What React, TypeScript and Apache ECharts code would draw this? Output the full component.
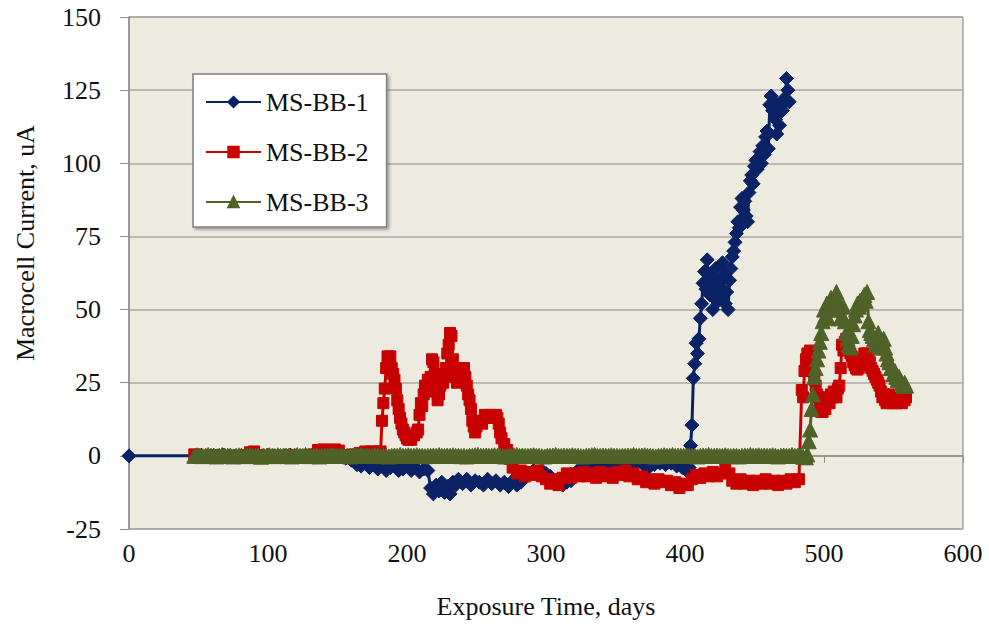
import React, { useEffect, useRef } from "react";
import * as echarts from "echarts";

const seriesNames = ["MS-BB-1", "MS-BB-2", "MS-BB-3"];
const xTicks = { min: 0, max: 600, interval: 100 };
const yTicks = { min: -25, max: 150, interval: 25 };

// [day, current uA]
const ms1: [number, number][] = [
  [0, 0], [48, 0], [52, 0.2], [56, 0], [60, -0.2], [64, 0], [68, 0.3], [72, 0], [76, -0.2], [80, 0],
  [84, 0.2], [88, 0], [92, -0.3], [96, 0], [100, 0.2], [104, 0], [108, -0.2], [112, 0], [116, 0.3], [120, 0],
  [124, -0.2], [128, 0], [132, 0.2], [136, 0], [140, -0.3], [144, 0], [148, 0.2], [152, -0.3], [156, -0.8], [160, -1.5],
  [164, -3], [167, -3.5], [170, -2.5], [173, -4], [176, -3], [179, -4.5], [182, -3.5], [185, -5], [188, -4], [191, -3.5],
  [194, -5], [197, -4.5], [200, -3.5], [203, -5], [206, -4], [209, -5.5], [212, -4.5], [215, -5], [217, -11], [219, -13],
  [221, -10], [223, -12], [225, -9], [227, -12.5], [229, -10.5], [231, -13], [233, -9], [235, -10], [237, -8], [240, -9.5],
  [243, -8], [246, -10], [249, -8.5], [252, -9], [255, -10], [258, -8], [261, -9.5], [264, -8.5], [267, -10], [270, -9],
  [273, -10.5], [276, -8.5], [279, -10], [282, -9], [285, -7], [288, -6], [291, -5], [294, -6], [297, -5], [300, -6],
  [303, -7], [306, -8.5], [309, -9.5], [312, -10], [315, -9], [318, -8.5], [321, -6], [324, -4.5], [327, -3.5], [330, -3],
  [334, -2.5], [338, -3], [342, -2], [346, -3], [350, -2.5], [354, -3.5], [358, -2.5], [362, -3], [366, -2], [370, -3],
  [374, -4], [378, -3], [382, -2.5], [386, -3], [390, -2.5], [394, -3.5], [398, -4], [401, -5], [403, -4], [404, 3.5],
  [405, 10.5], [406, 26.5], [407, 31.5], [408, 38.5], [409, 35], [410, 40], [411, 47], [412, 52], [413, 59], [414, 63],
  [415, 57], [416, 67], [417, 60], [418, 55], [419, 62], [420, 50], [421, 57], [422, 64], [423, 58], [424, 53],
  [425, 60], [426, 55], [427, 66], [428, 62], [429, 52], [430, 56], [431, 50], [432, 60], [433, 64], [434, 68],
  [435, 70], [436, 73], [437, 76], [438, 80], [439, 78], [440, 85], [441, 88], [442, 84], [443, 87], [444, 82],
  [445, 80], [446, 90], [447, 94], [448, 96], [449, 93], [450, 99], [451, 101], [452, 98], [453, 102], [454, 104],
  [455, 100], [456, 106], [457, 103], [458, 109], [459, 111], [460, 105], [461, 120], [462, 123], [463, 118], [464, 121],
  [465, 115], [466, 110], [467, 117], [468, 113], [469, 120], [470, 118], [471, 122], [472, 121], [473, 129], [474, 125],
  [475, 121],
];

const ms2: [number, number][] = [
  [47, 0.5], [51, 0], [55, 0], [59, 0.3], [63, 0], [67, 0], [71, -0.3], [75, 0], [79, 0], [83, 0.2],
  [87, 1.2], [90, 1.5], [93, 0.3], [97, 0], [101, 0], [105, -0.2], [109, 0], [113, 0], [117, 0.2], [121, 0],
  [125, 0], [129, 0], [133, 0.5], [136, 2], [140, 2.2], [144, 2], [148, 2.2], [151, 1.8], [154, 0.3], [158, 0],
  [162, 0.5], [166, 1], [170, 1.5], [174, 1.5], [178, 1.5], [181, 1.5], [182, 12], [183, 18], [184, 23], [185, 30],
  [186, 34], [187, 33], [188, 34], [189, 30], [190, 28], [191, 26], [192, 23], [193, 19], [194, 16], [195, 13],
  [196, 11], [197, 9], [198, 8], [199, 7], [200, 6], [201, 5.5], [202, 6], [203, 5.5], [205, 7], [207, 8],
  [208, 9], [209, 14], [210, 18], [211, 17], [212, 21], [213, 24], [214, 22], [215, 26], [216, 25], [217, 27],
  [218, 33], [219, 32], [220, 28], [221, 22], [222, 19], [223, 21], [224, 24], [225, 26], [226, 25], [227, 28],
  [228, 30], [229, 35], [230, 38], [231, 42], [232, 41], [233, 33], [234, 27], [235, 30], [236, 25], [237, 28],
  [238, 30], [239, 26], [240, 29], [241, 30], [242, 27], [243, 24], [244, 21], [245, 19], [246, 16], [247, 12],
  [248, 10], [249, 8], [250, 10], [252, 12], [254, 11], [256, 14], [258, 13], [260, 14], [262, 13], [264, 14],
  [265, 13], [266, 11], [267, 8], [268, 6], [270, 4], [272, 2], [274, -1], [276, -4], [279, -6], [282, -5],
  [285, -7], [288, -5.5], [291, -6.5], [294, -5], [297, -7], [300, -8], [303, -9.5], [306, -8], [309, -10], [312, -7.5],
  [315, -6], [318, -7.5], [321, -6], [324, -7], [327, -5.5], [330, -7], [333, -6], [336, -7.5], [339, -5.5], [342, -7],
  [345, -6], [348, -7.5], [351, -5.5], [354, -6.5], [357, -5], [360, -7], [363, -6], [366, -8], [369, -7], [372, -9],
  [375, -8], [378, -9.5], [381, -8], [384, -9], [387, -8.5], [390, -10], [393, -9], [396, -11], [399, -9.5], [402, -10],
  [405, -8], [408, -6.5], [411, -7.5], [414, -6], [417, -7], [420, -5.5], [423, -7], [426, -6], [429, -4.5], [432, -6],
  [434, -8.5], [437, -9.5], [440, -8], [443, -9.5], [446, -8.5], [449, -10], [452, -8.5], [455, -9.5], [458, -8], [461, -9.5],
  [464, -8.5], [467, -10], [470, -8.5], [473, -9.5], [476, -8], [479, -9], [482, -8], [484, 22.5], [485, 20], [486, 29],
  [487, 33], [488, 35], [489, 33], [490, 36], [491, 32], [492, 29], [493, 26], [494, 24], [495, 21], [496, 20],
  [497, 17], [498, 15], [499, 15], [500, 18], [501, 16], [502, 19], [503, 20], [504, 18], [505, 21], [506, 20],
  [507, 22], [508, 21], [509, 20], [510, 23], [511, 24], [512, 30], [513, 38], [514, 36], [515, 39], [516, 40],
  [517, 38], [518, 36], [519, 35], [520, 34], [521, 32], [522, 31], [523, 30], [524, 29.5], [525, 30], [526, 31],
  [527, 31], [528, 33], [529, 35], [530, 34], [531, 35], [532, 33], [533, 32], [534, 30], [535, 29], [536, 28],
  [537, 27], [538, 26], [539, 25], [540, 24], [541, 22], [542, 20], [543, 21], [544, 19], [545, 18], [546, 20],
  [547, 21], [548, 19], [549, 18], [550, 19], [552, 18], [554, 20], [556, 18], [558, 19], [559, 20],
];

const ms3: [number, number][] = [
  [47, 0], [49, 0.2], [51, 0], [53, -0.1], [55, 0], [57, 0.3], [59, 0], [61, 0.1], [63, -0.2], [65, 0],
  [67, 0.3], [69, 0], [71, 0], [73, 0.1], [75, -0.2], [77, 0], [79, 0.2], [81, 0], [83, -0.1], [85, 0],
  [87, 0.2], [89, 0], [91, 0.1], [93, 0], [95, -0.3], [97, 0], [99, 0], [101, 0.2], [103, 0], [105, -0.1],
  [107, 0.2], [109, 0], [111, 0], [113, 0.1], [115, 0], [117, -0.2], [119, 0], [121, 0.3], [123, 0], [125, 0],
  [127, 0.3], [129, 0], [131, -0.1], [133, 0], [135, 0], [137, -0.2], [139, 0], [141, 0.1], [143, 0], [145, 0.2],
  [147, 0.2], [149, 0], [151, 0], [153, 0.1], [155, 0], [157, 0], [159, -0.2], [161, 0], [163, 0.3], [165, 0],
  [167, 0.3], [169, 0], [171, 0.1], [173, 0], [175, 0], [177, 0.2], [179, 0], [181, -0.1], [183, 0], [185, 0],
  [187, -0.2], [189, 0], [191, 0.1], [193, 0], [195, 0.3], [197, 0], [199, 0], [201, 0.2], [203, 0], [205, 0],
  [207, 0.2], [209, 0], [211, 0], [213, -0.1], [215, 0], [217, 0], [219, 0.1], [221, 0], [223, 0.3], [225, 0],
  [227, 0], [229, 0.1], [231, 0], [233, 0.2], [235, 0], [237, 0], [239, -0.1], [241, 0], [243, -0.2], [245, 0],
  [247, 0], [249, 0.2], [251, 0.3], [253, 0], [255, 0], [257, 0.1], [259, 0], [261, 0], [263, 0.2], [265, 0],
  [267, 0], [269, -0.1], [271, -0.2], [273, 0], [275, 0], [277, 0.2], [279, 0.3], [281, 0], [283, 0.1], [285, 0],
  [287, 0], [289, 0.1], [291, 0.2], [293, 0], [295, 0], [297, -0.1], [299, -0.2], [301, 0], [303, 0], [305, 0.1],
  [307, 0.3], [309, 0], [311, 0], [313, 0.1], [315, 0], [317, 0], [319, 0.2], [321, 0], [323, 0], [325, -0.1],
  [327, -0.2], [329, 0], [331, 0], [333, 0.2], [335, 0.3], [337, 0], [339, 0], [341, 0.1], [343, 0], [345, 0],
  [347, 0.2], [349, 0], [351, 0], [353, -0.1], [355, 0], [357, 0], [359, 0.1], [361, 0], [363, 0.3], [365, 0],
  [367, 0], [369, 0.1], [371, 0.2], [373, 0], [375, 0], [377, -0.1], [379, -0.2], [381, 0], [383, 0], [385, 0.2],
  [387, 0], [389, 0], [391, 0.3], [393, 0], [395, 0.1], [397, 0], [399, 0], [401, 0.2], [403, 0], [405, 0],
  [407, 0], [409, -0.2], [411, 0], [413, 0.1], [415, 0], [417, 0.3], [419, 0], [421, 0], [423, 0.1], [425, 0],
  [427, 0], [429, 0.2], [431, 0], [433, -0.1], [435, 0], [437, 0], [439, -0.2], [441, 0], [443, 0.1], [445, 0],
  [447, 0.3], [449, 0], [451, 0], [453, 0.2], [455, 0], [457, 0.1], [459, 0], [461, 0], [463, 0.2], [465, 0],
  [467, -0.2], [469, 0], [471, 0.1], [473, 0], [475, 0], [477, 0.3], [479, 0], [481, 0.1], [483, 0], [485, -0.3],
  [487, -0.5], [488, 0.5], [489, 5], [490, 9], [491, 16], [492, 21], [493, 27], [494, 30], [495, 33], [496, 36],
  [497, 39], [498, 42], [499, 46], [500, 50], [501, 48], [502, 52], [503, 47], [504, 52], [505, 54], [506, 50],
  [507, 53], [508, 55], [509, 56], [510, 52], [511, 50], [512, 47], [513, 48], [514, 51], [515, 46], [516, 42],
  [517, 40], [518, 38], [519, 37], [520, 41], [521, 45], [522, 48], [523, 50], [524, 52], [525, 51], [526, 53],
  [527, 52], [528, 54], [529, 55], [530, 53], [531, 56], [532, 46], [533, 43], [534, 42], [535, 41], [536, 40],
  [537, 38], [538, 40], [539, 42], [540, 38], [541, 37], [542, 39], [543, 40], [544, 37], [545, 35], [546, 33],
  [547, 32], [548, 30], [549, 30], [550, 28], [551, 29], [552, 27], [553, 26], [554, 27], [555, 26], [556, 25],
  [557, 24], [558, 25], [559, 24],
];

const colors = ["#0B2266", "#C80000", "#4F6228"];
const FONT = "'Liberation Serif', 'Times New Roman', serif";

export default function App() {
  const ref = useRef<HTMLDivElement>(null);
  useEffect(() => {
    if (!ref.current) return;
    const chart = echarts.init(ref.current, undefined, { renderer: "svg" });
    const mk = (name: string, data: [number, number][], color: string, symbol: string, size: number) => ({
      name,
      type: "line",
      data,
      symbol,
      symbolSize: size,
      showAllSymbol: true,
      lineStyle: { color, width: 3 },
      itemStyle: { color, borderColor: color, borderWidth: 1 },
      emphasis: { disabled: true },
    });
    chart.setOption({
      animation: false,
      backgroundColor: "#ffffff",
      textStyle: { fontFamily: FONT },
      grid: {
        left: 129,
        right: 26,
        top: 17,
        bottom: 105,
        show: true,
        backgroundColor: "#EDEAE0",
        borderColor: "#7F7F7F",
        borderWidth: 1,
      },
      xAxis: {
        type: "value",
        min: xTicks.min,
        max: xTicks.max,
        interval: xTicks.interval,
        name: "Exposure Time, days",
        nameLocation: "middle",
        nameGap: 64,
        nameTextStyle: { fontFamily: FONT, fontSize: 26, color: "#111" },
        axisLine: { show: true, lineStyle: { color: "#8C8C8C", width: 1.5 } },
        axisTick: { show: true, length: 7, lineStyle: { color: "#8C8C8C" } },
        axisLabel: { fontFamily: FONT, fontSize: 26, color: "#111", margin: 11 },
        splitLine: { show: false },
      },
      yAxis: {
        type: "value",
        min: yTicks.min,
        max: yTicks.max,
        interval: yTicks.interval,
        axisLine: { show: true, lineStyle: { color: "#8C8C8C", width: 1.5 } },
        axisTick: { show: true, length: 9, lineStyle: { color: "#8C8C8C" } },
        axisLabel: { fontFamily: FONT, fontSize: 26, color: "#111", margin: 28 },
        splitLine: { show: true, lineStyle: { color: "#A9A9A9", width: 1.5 } },
      },
      legend: {
        orient: "vertical",
        left: 193,
        top: 74,
        data: seriesNames,
        backgroundColor: "#ffffff",
        borderColor: "#7F7F7F",
        borderWidth: 1.5,
        shadowColor: "rgba(0,0,0,0.35)",
        shadowBlur: 3,
        shadowOffsetX: 2,
        shadowOffsetY: 2,
        padding: [15, 18, 12, 12],
        itemWidth: 55,
        itemHeight: 13,
        itemGap: 24,
        textStyle: { fontFamily: FONT, fontSize: 26, color: "#111", lineHeight: 26 },
      },
      graphic: [
        {
          type: "text",
          x: 25,
          y: 243,
          rotation: Math.PI / 2,
          style: {
            text: "Macrocell Current, uA",
            fontFamily: FONT,
            fontSize: 26,
            fill: "#111",
            textAlign: "center",
            textVerticalAlign: "middle",
          },
        },
      ],
      series: [
        mk(seriesNames[0], ms1, colors[0], "diamond", 14),
        mk(seriesNames[1], ms2, colors[1], "rect", 11),
        mk(seriesNames[2], ms3, colors[2], "triangle", 15),
      ],
    });
    return () => chart.dispose();
  }, []);
  return <div ref={ref} style={{ position: "fixed", left: 0, top: 0, width: 989, height: 634 }} />;
}
